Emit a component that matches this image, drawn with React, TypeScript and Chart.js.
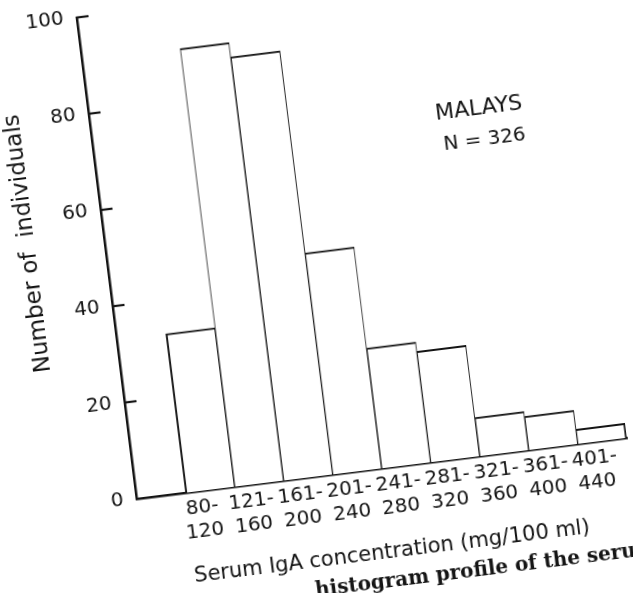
import React, { useEffect, useRef } from "react";
import { Chart, registerables } from "chart.js";

Chart.register(...registerables);

// ---- data ----
const categories = [
  "80-120",
  "121-160",
  "161-200",
  "201-240",
  "241-280",
  "281-320",
  "321-360",
  "361-400",
  "401-440",
];
const counts = [33, 91, 88, 46, 25, 23, 8, 7, 3];
const yTicks = [0, 20, 40, 60, 80, 100];
const xTitle = "Serum IgA concentration (mg/100 ml)";
const yTitle = "Number of  individuals";
const noteLines = ["MALAYS", "N = 326"];
const captionText = "histogram profile of the serum";

const FONT = '"DejaVu Sans", sans-serif';
const INK = "#151515";

const W = 700;
const H = 680;

const extrasPlugin = {
  id: "extras",
  afterDraw(chart: any) {
    const { ctx, chartArea } = chart;
    const y = chart.scales.y;
    const x = chart.scales.x;
    ctx.save();
    // inner tick marks on the y axis
    ctx.strokeStyle = INK;
    ctx.lineWidth = 2.2;
    yTicks.forEach((v) => {
      if (v === 0) return;
      const py = y.getPixelForValue(v);
      ctx.beginPath();
      ctx.moveTo(chartArea.left, py);
      ctx.lineTo(chartArea.left + 12, py);
      ctx.stroke();
    });
    // y-axis title
    ctx.fillStyle = INK;
    ctx.font = `23px ${FONT}`;
    ctx.textAlign = "center";
    ctx.textBaseline = "middle";
    ctx.save();
    ctx.translate(chartArea.left - 76, y.getPixelForValue(55));
    ctx.rotate(-Math.PI / 2);
    ctx.fillText(yTitle, 0, 0);
    ctx.restore();
    // annotation
    const nx = x.getPixelForValue(7.35);
    ctx.font = `22px ${FONT}`;
    ctx.fillText(noteLines[0], nx, y.getPixelForValue(71));
    ctx.font = `20px ${FONT}`;
    ctx.fillText(noteLines[1], nx + 2, y.getPixelForValue(64.5));
    // caption (cut by the page edge)
    ctx.font = 'bold 20px "DejaVu Serif", serif';
    ctx.textAlign = "left";
    ctx.textBaseline = "alphabetic";
    ctx.fillText(captionText, chartArea.left + 166, chartArea.bottom + 119);
    ctx.restore();
  },
};

export default function App() {
  const ref = useRef<HTMLCanvasElement | null>(null);

  useEffect(() => {
    if (!ref.current) return;
    const labels = ["", ...categories.map((c) => {
      const i = c.indexOf("-");
      return [c.slice(0, i + 1), c.slice(i + 1)];
    })];
    const data = [null, ...counts];
    const last = data.length - 1;
    const chart = new Chart(ref.current, {
      type: "bar",
      data: {
        labels: labels as any,
        datasets: [
          {
            data: data as any,
            backgroundColor: "#ffffff",
            borderColor: INK,
            borderSkipped: false,
            borderWidth: (c: any) => ({
              top: 2,
              bottom: 0,
              left: c.dataIndex === 1 ? 2 : 1,
              right: c.dataIndex === last ? 2 : 1,
            }),
            barPercentage: 1,
            categoryPercentage: 1,
          },
        ],
      },
      options: {
        animation: false,
        responsive: false,
        devicePixelRatio: 1,
        layout: { padding: { left: 46, right: 60, top: 33, bottom: 65 } },
        plugins: {
          legend: { display: false },
          tooltip: { enabled: false },
        },
        scales: {
          x: {
            grid: { display: false, drawTicks: false },
            border: { display: true, color: INK, width: 2.5 },
            ticks: {
              autoSkip: false,
              maxRotation: 0,
              minRotation: 0,
              padding: 5,
              labelOffset: -10,
              color: INK,
              font: { family: FONT, size: 20, lineHeight: 1.2 },
            },
            title: {
              display: true,
              text: xTitle,
              color: INK,
              padding: 0,
              font: { family: FONT, size: 21, lineHeight: 1.2 },
            },
            afterFit: (s: any) => {
              s.height = 97;
            },
          },
          y: {
            min: 0,
            max: 100,
            grid: { display: false, drawTicks: false },
            border: { display: true, color: INK, width: 2.5 },
            afterBuildTicks: (s: any) => {
              s.ticks = yTicks.map((v) => ({ value: v }));
            },
            ticks: {
              padding: 13,
              color: INK,
              font: { family: FONT, size: 20 },
            },
            afterFit: (s: any) => {
              s.width = 100;
            },
          },
        },
      },
      plugins: [extrasPlugin],
    });
    return () => chart.destroy();
  }, []);

  return (
    <div
      style={{
        position: "fixed",
        left: 0,
        top: 0,
        width: "100vw",
        height: "100vh",
        overflow: "hidden",
        background: "#ffffff",
      }}
    >
      <div
        style={{
          position: "absolute",
          left: -33.5,
          top: -43.5,
          width: W,
          height: H,
          transform: "rotate(-7.1deg)",
          transformOrigin: "50% 50%",
        }}
      >
        <canvas ref={ref} width={W} height={H} style={{ display: "block", width: W, height: H }} />
      </div>
    </div>
  );
}
